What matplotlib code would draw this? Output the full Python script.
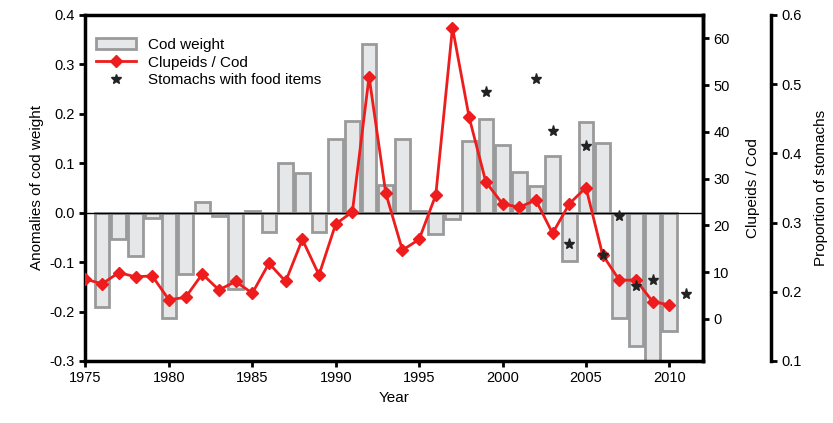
import matplotlib
matplotlib.use("Agg")
import matplotlib.pyplot as plt
from matplotlib.patches import Patch
from matplotlib.lines import Line2D
from matplotlib.ticker import FormatStrFormatter

plt.rcParams['font.family'] = ['Liberation Sans', 'DejaVu Sans']

bar_years = list(range(1976, 2011))
cod_weight = [-0.19, -0.053, -0.088, -0.01, -0.214, -0.125, 0.022, -0.007, -0.155, 0.004,
              -0.04, 0.101, 0.08, -0.04, 0.15, 0.186, 0.341, 0.057, 0.15, 0.003,
              -0.044, -0.013, 0.145, 0.19, 0.137, 0.082, 0.053, 0.115, -0.098, 0.184,
              0.14, -0.214, -0.27, -0.30, -0.24]

line_years = list(range(1975, 2011))
clupeids_cod = [8.5, 7.5, 9.9, 9.0, 9.2, 4.1, 4.6, 9.6, 6.2, 8.0,
                5.5, 11.9, 8.0, 17.0, 9.4, 20.3, 22.9, 51.8, 26.9, 14.7,
                17.0, 26.5, 62.3, 43.1, 29.3, 24.6, 23.9, 25.4, 18.3, 24.6,
                28.1, 13.7, 8.3, 8.3, 3.7, 3.0]

star_years = [1999, 2002, 2003, 2004, 2005, 2006, 2007, 2008, 2009, 2011]
stomachs = [0.489, 0.507, 0.432, 0.269, 0.411, 0.253, 0.310, 0.208, 0.217, 0.197]

fig = plt.figure(figsize=(8.33, 4.23), dpi=100)
ax = fig.add_axes([0.1026, 0.1466, 0.741, 0.818])

ax.bar(bar_years, cod_weight, width=0.88, color='#e6e7e9', edgecolor='#9a9a9a', linewidth=2, zorder=2)
ax.axhline(0, color='black', lw=1, zorder=3)
ax.set_xlim(1975, 2012)
ax.set_ylim(-0.3, 0.4)
ax.set_xticks(range(1975, 2011, 5))
ax.set_yticks([-0.3, -0.2, -0.1, 0.0, 0.1, 0.2, 0.3, 0.4])
ax.yaxis.set_major_formatter(FormatStrFormatter('%.1f'))
ax.set_xlabel('Year', fontsize=11)
ax.set_ylabel('Anomalies of cod weight', fontsize=11, labelpad=4)

ax2 = ax.twinx()
ax2.plot(line_years, clupeids_cod, color='#ee1c1c', lw=2, marker='D', markersize=6, zorder=5)
ax2.set_ylim(-9, 65)
ax2.set_yticks([0, 10, 20, 30, 40, 50, 60])
ax2.set_ylabel('Clupeids / Cod', fontsize=11)
ax2.yaxis.set_label_coords(1.07, 0.5)

ax3 = ax.twinx()
ax3.plot(star_years, stomachs, linestyle='none', marker='*', color='#222222', markersize=8, zorder=6)
ax3.set_ylim(0.1, 0.6)
ax3.set_yticks([0.1, 0.2, 0.3, 0.4, 0.5, 0.6])
ax3.yaxis.set_major_formatter(FormatStrFormatter('%.1f'))
ax3.spines['right'].set_position(('outward', 49))
for s in ['left', 'top', 'bottom']:
    ax3.spines[s].set_visible(False)
ax3.set_ylabel('Proportion of stomachs', fontsize=11)
ax3.yaxis.set_label_coords(1.181, 0.5)

for a in (ax, ax2, ax3):
    for s in a.spines.values():
        s.set_linewidth(2.5)
    a.tick_params(width=2, length=4, labelsize=10.5, direction='out')
ax2.spines['left'].set_visible(False)
ax2.spines['top'].set_visible(False)
ax2.spines['bottom'].set_visible(False)

handles = [Patch(facecolor='#e6e7e9', edgecolor='#9a9a9a', linewidth=2),
           Line2D([], [], color='#ee1c1c', lw=2, marker='D', markersize=6),
           Line2D([], [], linestyle='none', marker='*', color='#222222', markersize=7)]
labels = ['Cod weight', 'Clupeids / Cod', 'Stomachs with food items']
leg = ax3.legend(handles, labels, loc='upper left', bbox_to_anchor=(0.0, 0.965), frameon=False,
                 fontsize=11, handlelength=2.6, labelspacing=0.25, borderaxespad=0.3)

fig.savefig('out.png', dpi=100)
